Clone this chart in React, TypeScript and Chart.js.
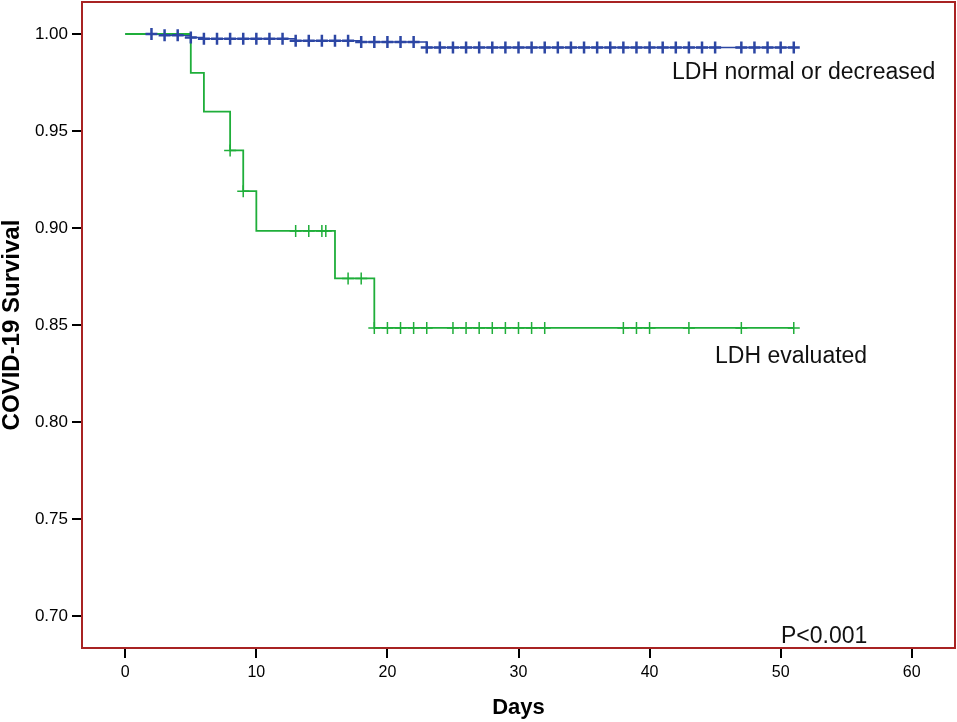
import { useEffect, useRef } from "react";
import { Chart, registerables } from "chart.js";

Chart.register(...registerables);

// LDH normal or decreased: event times (days) and survival after each step
const normalTimes = [0, 3, 5, 6, 13, 18, 23, 51];
const normalSurvival = [1.0, 0.9993, 0.9982, 0.9976, 0.9965, 0.9959, 0.9931, 0.9931];
const normalCensored = [
  2, 3, 4, 5, 6, 7, 8, 9, 10, 11, 12, 13, 14, 15, 16, 17, 18, 19, 20, 21, 22, 23, 24, 25, 26,
  27, 28, 29, 30, 31, 32, 33, 34, 35, 36, 37, 38, 39, 40, 41, 42, 43, 44, 45, 47, 48, 49, 50, 51,
];

// LDH evaluated
const evaluatedTimes = [0, 5, 6, 8, 9, 10, 16, 19, 51];
const evaluatedSurvival = [1.0, 0.98, 0.96, 0.94, 0.919, 0.8985, 0.874, 0.8485, 0.8485];
const evaluatedCensored = [
  8, 9, 13, 14, 15, 15.3, 17, 18, 19, 20, 21, 22, 23, 25, 26, 27, 28, 29, 30, 31, 32, 38, 39, 40,
  43, 47, 51,
];

const xTicks = [0, 10, 20, 30, 40, 50, 60];
const yTicks = [0.7, 0.75, 0.8, 0.85, 0.9, 0.95, 1.0];

const BLUE = "#2c46a4";
const GREEN = "#1fae3a";
const FRAME = "#a82323";

function levelAt(times: number[], surv: number[], t: number) {
  let s = surv[0];
  for (let i = 0; i < times.length; i++) if (times[i] <= t) s = surv[i];
  return s;
}

const frameAndLabels = {
  id: "frameAndLabels",
  afterDraw(chart: Chart) {
    const { ctx, chartArea } = chart;
    ctx.save();
    ctx.strokeStyle = FRAME;
    ctx.lineWidth = 2;
    ctx.strokeRect(chartArea.left, chartArea.top, chartArea.right - chartArea.left, chartArea.bottom - chartArea.top);
    ctx.fillStyle = "#111";
    ctx.font = "23px 'Liberation Sans', Arial, sans-serif";
    ctx.textBaseline = "middle";
    ctx.textAlign = "left";
    ctx.fillText("LDH normal or decreased", 672, 73);
    ctx.fillText("LDH evaluated", 715, 357);
    ctx.fillText("P<0.001", 781, 637);
    ctx.restore();
  },
};

export default function App() {
  const chartRef = useRef<HTMLCanvasElement>(null);

  useEffect(() => {
    if (!chartRef.current) return;
    const ctx = chartRef.current.getContext("2d");
    if (!ctx) return;

    const chart = new Chart(ctx, {
      type: "scatter",
      data: {
        datasets: [
          {
            label: "LDH evaluated censored",
            data: evaluatedCensored.map((t) => ({ x: t, y: levelAt(evaluatedTimes, evaluatedSurvival, t) })),
            pointStyle: "cross",
            pointRadius: 6,
            borderColor: GREEN,
            borderWidth: 1.5,
            showLine: false,
            order: 1,
          },
          {
            label: "LDH normal censored",
            data: normalCensored.map((t) => ({ x: t, y: levelAt(normalTimes, normalSurvival, t) })),
            pointStyle: "cross",
            pointRadius: 6,
            borderColor: BLUE,
            borderWidth: 2.5,
            showLine: false,
            order: 2,
          },
          {
            label: "LDH evaluated",
            data: evaluatedTimes.map((t, i) => ({ x: t, y: evaluatedSurvival[i] })),
            showLine: true,
            stepped: true,
            borderColor: GREEN,
            borderWidth: 1.8,
            pointRadius: 0,
            order: 3,
          },
          {
            label: "LDH normal or decreased",
            data: normalTimes.map((t, i) => ({ x: t, y: normalSurvival[i] })),
            showLine: true,
            stepped: true,
            borderColor: BLUE,
            borderWidth: 1.5,
            pointRadius: 0,
            order: 4,
          },
        ],
      },
      options: {
        responsive: true,
        maintainAspectRatio: false,
        animation: false,
        layout: { autoPadding: false, padding: { top: 2, right: 2, left: 0, bottom: 0 } },
        plugins: {
          legend: { display: false },
          tooltip: { enabled: false },
        },
        scales: {
          x: {
            type: "linear",
            min: -3.3,
            max: 63.3,
            afterBuildTicks: (scale) => {
              scale.ticks = xTicks.map((v) => ({ value: v }));
            },
            afterFit: (scale: any) => {
              scale.height = 74;
              scale.paddingLeft = 0;
              scale.paddingRight = 0;
            },
            grid: { drawOnChartArea: false, drawTicks: true, tickLength: 10, color: "#000", lineWidth: 2 },
            border: { display: false },
            ticks: {
              color: "#000",
              padding: 5,
              maxRotation: 0,
              font: { family: "'Liberation Sans', Arial, sans-serif", size: 16 },
              callback: (v) => String(v),
            },
            title: {
              display: true,
              text: "Days",
              color: "#000",
              padding: { top: 0, bottom: 3 },
              font: { family: "'Liberation Sans', Arial, sans-serif", size: 22, weight: "bold", lineHeight: 1 },
            },
          },
          y: {
            type: "linear",
            min: 0.6835,
            max: 1.0165,
            afterBuildTicks: (scale) => {
              scale.ticks = yTicks.map((v) => ({ value: v }));
            },
            afterFit: (scale: any) => {
              scale.width = 82;
              scale.paddingTop = 0;
              scale.paddingBottom = 0;
            },
            grid: { drawOnChartArea: false, drawTicks: true, tickLength: 10, color: "#000", lineWidth: 2 },
            border: { display: false },
            ticks: {
              color: "#000",
              padding: 4,
              font: { family: "'Liberation Sans', Arial, sans-serif", size: 17 },
              callback: (v) => Number(v).toFixed(2),
            },
            title: {
              display: true,
              text: "COVID-19 Survival",
              color: "#000",
              padding: { top: 0, bottom: 0 },
              font: { family: "'Liberation Sans', Arial, sans-serif", size: 24, weight: "bold", lineHeight: 1 },
            },
          },
        },
      },
      plugins: [frameAndLabels],
    });

    return () => chart.destroy();
  }, []);

  return (
    <div style={{ position: "fixed", left: 0, top: 0, width: 957, height: 722, background: "#fff" }}>
      <canvas ref={chartRef} />
    </div>
  );
}
